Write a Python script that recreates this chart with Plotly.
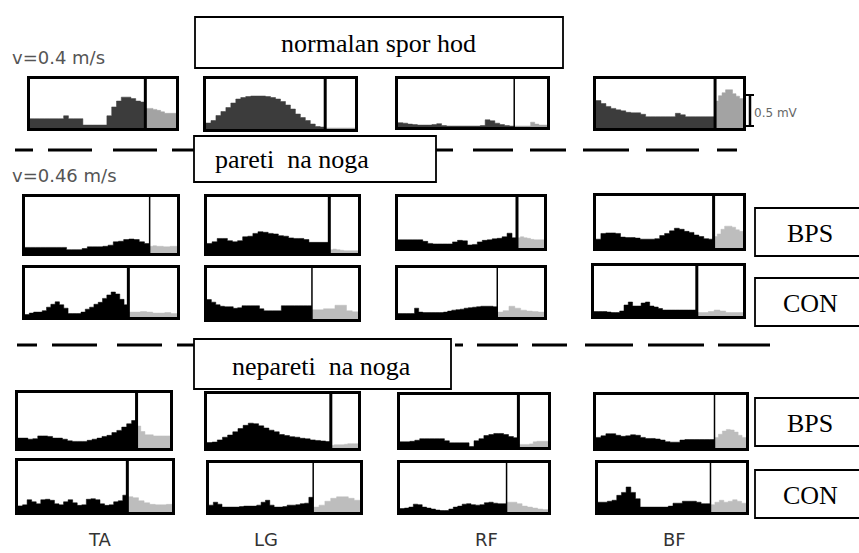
import plotly.graph_objects as go

W, H = 859, 553

# ---------------- DATA ----------------
MUSCLES = ["TA", "LG", "RF", "BF"]
CONDITIONS = ["normal", "pareti_BPS", "pareti_CON", "nepareti_BPS", "nepareti_CON"]
SPEED_LABELS = ["v=0.4 m/s", "v=0.46 m/s"]
GROUP_TITLES = ["normalan spor hod", "pareti  na noga", "nepareti  na noga"]
METHOD_LABELS = ["BPS", "CON", "BPS", "CON"]
SCALE_LABEL = "0.5 mV"

# stance-phase end (% of gait cycle) per condition, order TA, LG, RF, BF
stance_end_normal = [79, 80, 78, 81]
stance_end_pareti_bps = [82, 81, 81.5, 80]
stance_end_pareti_con = [68, 69.5, 68, 69]
stance_end_nepareti_bps = [78, 82, 80, 79]
stance_end_nepareti_con = [71, 69, 72, 76]

# normalized EMG envelopes (fraction of panel height), stance = 24 bins, swing = 8 bins
normal_TA_stance = [0.19, 0.19, 0.19, 0.19, 0.19, 0.19, 0.19, 0.25, 0.19, 0.19, 0.19, 0.06,
                    0.06, 0.06, 0.06, 0.06, 0.25, 0.43, 0.55, 0.63, 0.63, 0.6, 0.55, 0.53]
normal_TA_swing = [0.4, 0.4, 0.38, 0.36, 0.33, 0.3, 0.3, 0.3]
normal_LG_stance = [0.12, 0.17, 0.27, 0.35, 0.43, 0.52, 0.6, 0.63, 0.65, 0.66, 0.66, 0.66,
                    0.65, 0.63, 0.6, 0.55, 0.48, 0.4, 0.3, 0.23, 0.17, 0.1, 0.05, 0.04]
normal_LG_swing = [0.02, 0.02, 0.02, 0.02, 0.02, 0.02, 0.02, 0.02]
normal_RF_stance = [0.09, 0.08, 0.06, 0.05, 0.04, 0.04, 0.04, 0.05, 0.07, 0.03, 0.02, 0.02,
                    0.02, 0.02, 0.02, 0.02, 0.02, 0.03, 0.15, 0.13, 0.08, 0.05, 0.03, 0.02]
normal_RF_swing = [0.02, 0.02, 0.02, 0.02, 0.1, 0.06, 0.04, 0.04]
normal_BF_stance = [0.56, 0.5, 0.44, 0.4, 0.37, 0.35, 0.32, 0.31, 0.31, 0.28, 0.23, 0.23,
                    0.23, 0.23, 0.23, 0.23, 0.3, 0.27, 0.23, 0.23, 0.23, 0.23, 0.23, 0.23]
normal_BF_swing = [0.55, 0.66, 0.72, 0.78, 0.78, 0.7, 0.65, 0.6]

pareti_bps_TA_stance = [0.1, 0.1, 0.1, 0.1, 0.1, 0.1, 0.1, 0.1, 0.06, 0.06, 0.06, 0.08,
                        0.11, 0.11, 0.11, 0.12, 0.14, 0.2, 0.21, 0.24, 0.25, 0.24, 0.2, 0.17]
pareti_bps_TA_swing = [0.12, 0.13, 0.12, 0.12, 0.11, 0.11, 0.12, 0.12]
pareti_bps_LG_stance = [0.17, 0.2, 0.26, 0.26, 0.22, 0.2, 0.22, 0.29, 0.3, 0.35, 0.38, 0.37,
                        0.35, 0.34, 0.31, 0.3, 0.27, 0.26, 0.26, 0.24, 0.19, 0.19, 0.19, 0.19]
pareti_bps_LG_swing = [0.06, 0.07, 0.06, 0.05, 0.04, 0.04, 0.04, 0.04]
pareti_bps_RF_stance = [0.16, 0.16, 0.16, 0.16, 0.16, 0.13, 0.09, 0.08, 0.08, 0.08, 0.08, 0.12,
                        0.15, 0.14, 0.06, 0.07, 0.12, 0.15, 0.16, 0.18, 0.19, 0.22, 0.29, 0.2]
pareti_bps_RF_swing = [0.2, 0.22, 0.2, 0.19, 0.17, 0.16, 0.16, 0.16]
pareti_bps_BF_stance = [0.17, 0.28, 0.29, 0.29, 0.28, 0.21, 0.2, 0.2, 0.19, 0.17, 0.17, 0.17,
                        0.18, 0.24, 0.28, 0.33, 0.38, 0.36, 0.32, 0.3, 0.25, 0.22, 0.18, 0.17]
pareti_bps_BF_swing = [0.22, 0.27, 0.36, 0.42, 0.42, 0.4, 0.35, 0.32]

pareti_con_TA_stance = [0.05, 0.08, 0.1, 0.1, 0.13, 0.2, 0.26, 0.31, 0.25, 0.18, 0.07, 0.07,
                        0.07, 0.1, 0.16, 0.2, 0.26, 0.3, 0.38, 0.45, 0.51, 0.47, 0.36, 0.25]
pareti_con_TA_swing = [0.1, 0.1, 0.11, 0.1, 0.08, 0.08, 0.09, 0.07]
pareti_con_LG_stance = [0.38, 0.33, 0.28, 0.25, 0.24, 0.24, 0.21, 0.22, 0.26, 0.26, 0.26, 0.26,
                        0.2, 0.16, 0.16, 0.16, 0.16, 0.26, 0.26, 0.26, 0.26, 0.26, 0.26, 0.26]
pareti_con_LG_swing = [0.18, 0.18, 0.2, 0.2, 0.27, 0.27, 0.16, 0.14]
pareti_con_RF_stance = [0.07, 0.07, 0.07, 0.07, 0.18, 0.1, 0.09, 0.09, 0.09, 0.09, 0.09, 0.1,
                        0.12, 0.14, 0.15, 0.16, 0.18, 0.19, 0.2, 0.21, 0.22, 0.22, 0.22, 0.21]
pareti_con_RF_swing = [0.1, 0.13, 0.22, 0.18, 0.14, 0.12, 0.11, 0.1]
pareti_con_BF_stance = [0.09, 0.09, 0.09, 0.08, 0.07, 0.07, 0.1, 0.22, 0.28, 0.2, 0.2, 0.26,
                        0.28, 0.2, 0.18, 0.15, 0.12, 0.12, 0.12, 0.12, 0.12, 0.12, 0.12, 0.12]
pareti_con_BF_swing = [0.07, 0.07, 0.09, 0.12, 0.1, 0.07, 0.07, 0.07]

nepareti_bps_TA_stance = [0.18, 0.18, 0.16, 0.17, 0.22, 0.22, 0.21, 0.18, 0.18, 0.16, 0.13, 0.12,
                          0.12, 0.12, 0.14, 0.16, 0.18, 0.21, 0.23, 0.28, 0.32, 0.38, 0.44, 0.5]
nepareti_bps_TA_swing = [0.4, 0.3, 0.24, 0.24, 0.22, 0.22, 0.22, 0.22]
nepareti_bps_LG_stance = [0.1, 0.11, 0.15, 0.2, 0.24, 0.3, 0.36, 0.42, 0.46, 0.45, 0.41, 0.37,
                          0.33, 0.3, 0.25, 0.23, 0.21, 0.2, 0.18, 0.17, 0.15, 0.14, 0.13, 0.12]
nepareti_bps_LG_swing = [0.05, 0.06, 0.06, 0.06, 0.07, 0.08, 0.08, 0.08]
nepareti_bps_RF_stance = [0.1, 0.1, 0.11, 0.13, 0.16, 0.16, 0.16, 0.16, 0.16, 0.12, 0.08, 0.08,
                          0.08, 0.08, 0.01, 0.12, 0.16, 0.22, 0.24, 0.26, 0.26, 0.24, 0.2, 0.18]
nepareti_bps_RF_swing = [0.05, 0.05, 0.05, 0.06, 0.1, 0.11, 0.11, 0.11]
nepareti_bps_BF_stance = [0.2, 0.23, 0.27, 0.27, 0.24, 0.22, 0.23, 0.25, 0.24, 0.2, 0.18, 0.18,
                          0.17, 0.15, 0.12, 0.11, 0.11, 0.15, 0.16, 0.16, 0.16, 0.16, 0.16, 0.16]
nepareti_bps_BF_swing = [0.2, 0.26, 0.32, 0.35, 0.34, 0.3, 0.24, 0.2]

nepareti_con_TA_stance = [0.12, 0.14, 0.24, 0.2, 0.16, 0.24, 0.25, 0.23, 0.16, 0.14, 0.2, 0.24,
                          0.18, 0.13, 0.14, 0.25, 0.26, 0.24, 0.16, 0.13, 0.14, 0.2, 0.22, 0.33]
nepareti_con_TA_swing = [0.3, 0.28, 0.22, 0.18, 0.15, 0.14, 0.14, 0.15]
nepareti_con_LG_stance = [0.14, 0.2, 0.16, 0.1, 0.1, 0.1, 0.1, 0.11, 0.12, 0.12, 0.12, 0.14,
                          0.2, 0.24, 0.14, 0.1, 0.1, 0.11, 0.14, 0.14, 0.15, 0.17, 0.18, 0.3]
nepareti_con_LG_swing = [0.1, 0.14, 0.22, 0.28, 0.31, 0.31, 0.28, 0.24]
nepareti_con_RF_stance = [0.07, 0.08, 0.1, 0.16, 0.15, 0.1, 0.08, 0.06, 0.04, 0.03, 0.03, 0.06,
                          0.1, 0.12, 0.16, 0.17, 0.15, 0.14, 0.15, 0.19, 0.2, 0.18, 0.17, 0.17]
nepareti_con_RF_swing = [0.2, 0.2, 0.17, 0.12, 0.1, 0.08, 0.06, 0.05]
nepareti_con_BF_stance = [0.2, 0.2, 0.22, 0.24, 0.34, 0.4, 0.51, 0.4, 0.27, 0.1, 0.1, 0.1,
                          0.1, 0.1, 0.1, 0.12, 0.18, 0.18, 0.22, 0.22, 0.22, 0.2, 0.17, 0.17]
nepareti_con_BF_swing = [0.15, 0.2, 0.24, 0.2, 0.22, 0.25, 0.22, 0.18]

STANCE = {
    "normal": [normal_TA_stance, normal_LG_stance, normal_RF_stance, normal_BF_stance],
    "pareti_BPS": [pareti_bps_TA_stance, pareti_bps_LG_stance, pareti_bps_RF_stance, pareti_bps_BF_stance],
    "pareti_CON": [pareti_con_TA_stance, pareti_con_LG_stance, pareti_con_RF_stance, pareti_con_BF_stance],
    "nepareti_BPS": [nepareti_bps_TA_stance, nepareti_bps_LG_stance, nepareti_bps_RF_stance, nepareti_bps_BF_stance],
    "nepareti_CON": [nepareti_con_TA_stance, nepareti_con_LG_stance, nepareti_con_RF_stance, nepareti_con_BF_stance],
}
SWING = {
    "normal": [normal_TA_swing, normal_LG_swing, normal_RF_swing, normal_BF_swing],
    "pareti_BPS": [pareti_bps_TA_swing, pareti_bps_LG_swing, pareti_bps_RF_swing, pareti_bps_BF_swing],
    "pareti_CON": [pareti_con_TA_swing, pareti_con_LG_swing, pareti_con_RF_swing, pareti_con_BF_swing],
    "nepareti_BPS": [nepareti_bps_TA_swing, nepareti_bps_LG_swing, nepareti_bps_RF_swing, nepareti_bps_BF_swing],
    "nepareti_CON": [nepareti_con_TA_swing, nepareti_con_LG_swing, nepareti_con_RF_swing, nepareti_con_BF_swing],
}
STANCE_END = {
    "normal": stance_end_normal,
    "pareti_BPS": stance_end_pareti_bps,
    "pareti_CON": stance_end_pareti_con,
    "nepareti_BPS": stance_end_nepareti_bps,
    "nepareti_CON": stance_end_nepareti_con,
}

# ---------------- LAYOUT (pixel boxes: left, right, top, bottom) ----------------
PANEL_BOX = [
    [(30, 176, 79, 128), (206, 355, 79, 129), (398, 547, 79, 127), (596, 743, 79, 128)],
    [(25, 177, 197, 253), (207, 358, 197, 253), (398, 544, 197, 248), (596, 743, 196, 248)],
    [(25, 177, 268, 317), (207, 358, 268, 319), (398, 544, 268, 317), (594, 743, 266, 316)],
    [(18, 170, 393, 448), (207, 358, 394, 448), (400, 548, 395, 447), (596, 746, 395, 448)],
    [(18, 172, 461, 512), (209, 360, 463, 512), (400, 548, 463, 512), (598, 746, 463, 512)],
]
DIVIDER_WIDTH = [
    [3, 3, 1.5, 3],
    [1.5, 3, 3, 3],
    [3, 1.5, 1.5, 3],
    [3, 3, 3, 1.5],
    [3, 1.5, 1.5, 1.5],
]
STANCE_COLOR = ["#3c3c3c", "#000000", "#000000", "#000000", "#000000"]
SWING_COLOR = ["#a3a3a3", "#bdbdbd", "#bdbdbd", "#bdbdbd", "#bdbdbd"]


def px(x):
    return x / W


def py(y):
    return 1 - y / H


fig = go.Figure()
shapes = []
annotations = []
layout_axes = {}

for r, cond in enumerate(CONDITIONS):
    for c, mus in enumerate(MUSCLES):
        n = r * 4 + c + 1
        sfx = "" if n == 1 else str(n)
        left, right, top, bottom = PANEL_BOX[r][c]
        st = STANCE[cond][c]
        sw = SWING[cond][c]
        pct = STANCE_END[cond][c]
        xs = [pct * i / len(st) for i in range(len(st))] + [pct]
        ys = list(st) + [st[-1]]
        xw = [pct + (100 - pct) * i / len(sw) for i in range(len(sw))] + [100]
        yw = list(sw) + [sw[-1]]
        fig.add_trace(go.Scatter(x=xs, y=ys, mode="lines", line=dict(shape="hv", width=0.5, color=STANCE_COLOR[r]),
                                 fill="tozeroy", fillcolor=STANCE_COLOR[r], xaxis="x" + sfx, yaxis="y" + sfx,
                                 hoverinfo="skip", showlegend=False))
        fig.add_trace(go.Scatter(x=xw, y=yw, mode="lines", line=dict(shape="hv", width=0.5, color=SWING_COLOR[r]),
                                 fill="tozeroy", fillcolor=SWING_COLOR[r], xaxis="x" + sfx, yaxis="y" + sfx,
                                 hoverinfo="skip", showlegend=False))
        ax = dict(showgrid=False, zeroline=False, showticklabels=False, ticks="", showline=True, mirror=True,
                  linecolor="black", linewidth=2.5, fixedrange=True)
        layout_axes["xaxis" + sfx] = dict(ax, domain=[px(left), px(right)], range=[0, 100], anchor="y" + sfx)
        layout_axes["yaxis" + sfx] = dict(ax, domain=[py(bottom), py(top)], range=[0, 1], anchor="x" + sfx)
        shapes.append(dict(type="line", xref="x" + sfx, yref="y" + sfx + " domain", x0=pct, x1=pct, y0=0, y1=1,
                           line=dict(color="black", width=DIVIDER_WIDTH[r][c])))

# dashed separators (explicit dash segments)
DASH_ROWS = [
    (150, [(15, 33), (48, 92), (113, 157), (172, 194), (436, 453), (473, 513), (530, 566), (583, 629), (646, 699), (717, 737)]),
    (345, [(17, 37), (52, 97), (117, 162), (177, 194), (455, 463), (477, 518), (532, 567), (585, 633), (648, 704), (718, 770)]),
]
for yy, segs in DASH_ROWS:
    for a, b in segs:
        shapes.append(dict(type="line", xref="paper", yref="paper", x0=px(a), x1=px(b), y0=py(yy), y1=py(yy),
                           line=dict(color="black", width=3)))

# titled boxes
BOXES = [
    (195, 563, 17, 68), (194, 436, 136, 182), (194, 451, 339, 389),
    (755, 866, 208, 256), (755, 866, 278, 326), (755, 866, 398, 446), (755, 866, 470, 518),
]
for (l, rr, t, b) in BOXES:
    shapes.append(dict(type="rect", xref="paper", yref="paper", x0=px(l), x1=px(rr), y0=py(b), y1=py(t),
                       line=dict(color="black", width=1.8), fillcolor="white", layer="above"))

serif = dict(family="Liberation Serif, Times New Roman, serif", size=26, color="black")
annotations.append(dict(text=GROUP_TITLES[0], x=px(378), y=py(43), xanchor="center", yanchor="middle", font=serif))
annotations.append(dict(text=GROUP_TITLES[1], x=px(213), y=py(160), xanchor="left", yanchor="middle", font=serif))
annotations.append(dict(text=GROUP_TITLES[2], x=px(230), y=py(366), xanchor="left", yanchor="middle", font=serif))
for lab, yc in zip(METHOD_LABELS, [233, 303, 423, 495]):
    annotations.append(dict(text=lab, x=px(810), y=py(yc), xanchor="center", yanchor="middle", font=serif))

sans = dict(family="DejaVu Sans, Verdana, sans-serif", size=18, color="#555555")
annotations.append(dict(text=SPEED_LABELS[0], x=px(10), y=py(58), xanchor="left", yanchor="middle", font=sans))
annotations.append(dict(text=SPEED_LABELS[1], x=px(10), y=py(175), xanchor="left", yanchor="middle", font=sans))

for lab, xc in zip(MUSCLES, [100, 266, 486, 674]):
    annotations.append(dict(text=lab, x=px(xc), y=py(539), xanchor="center", yanchor="middle",
                            font=dict(family="DejaVu Sans, Verdana, sans-serif", size=18, color="#333333")))

# scale bar 0.5 mV
shapes.append(dict(type="line", xref="paper", yref="paper", x0=px(750), x1=px(750), y0=py(95), y1=py(126),
                   line=dict(color="black", width=2.5)))
for yy in (95, 126):
    shapes.append(dict(type="line", xref="paper", yref="paper", x0=px(746), x1=px(754), y0=py(yy), y1=py(yy),
                       line=dict(color="black", width=2)))
annotations.append(dict(text=SCALE_LABEL, x=px(752), y=py(113), xanchor="left", yanchor="middle",
                        font=dict(family="DejaVu Sans, Verdana, sans-serif", size=12, color="#666666")))

for a in annotations:
    a.update(xref="paper", yref="paper", showarrow=False)

fig.update_layout(width=W, height=H, margin=dict(l=0, r=0, t=0, b=0), paper_bgcolor="white",
                  plot_bgcolor="white", shapes=shapes, annotations=annotations, showlegend=False, **layout_axes)

fig.write_html("out.html", config={"displayModeBar": False})
